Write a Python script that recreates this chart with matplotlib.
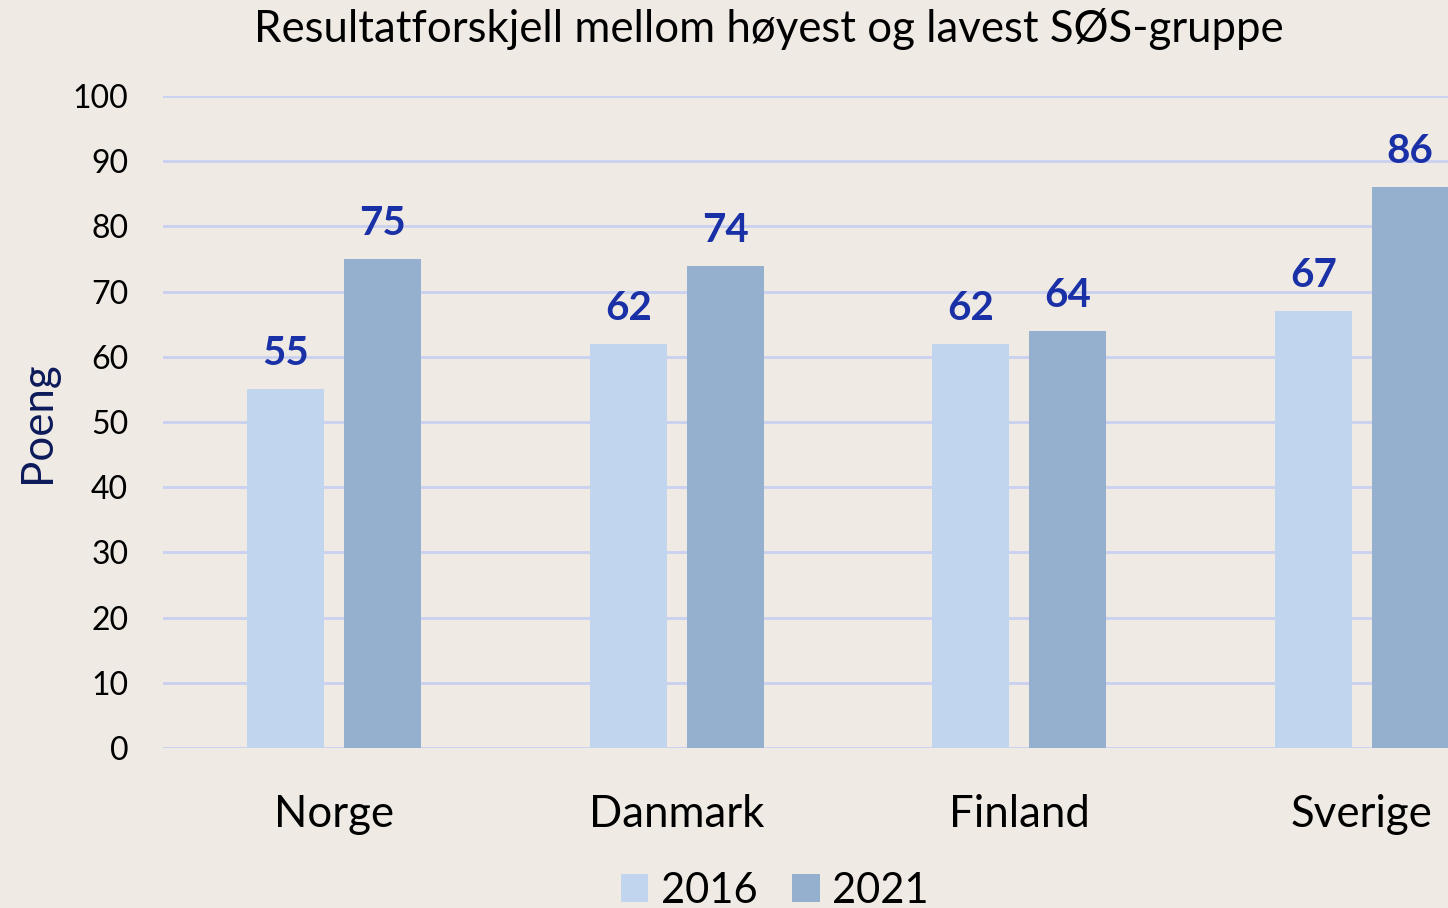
import matplotlib
matplotlib.use("Agg")
import matplotlib.pyplot as plt
import numpy as np
from matplotlib.patches import Patch

categories = ["Norge", "Danmark", "Finland", "Sverige"]
years = ["2016", "2021"]
values_2016 = [55, 62, 62, 67]
values_2021 = [75, 74, 64, 86]
yticks = [0, 10, 20, 30, 40, 50, 60, 70, 80, 90, 100]

bg = "#EFEBE4"
c2016 = "#C1D5EE"
c2021 = "#95AFCF"
lab_col = "#1A30A6"
grid_col = "#C9D1F0"

plt.rcParams['font.family'] = ['Lato', 'DejaVu Sans']

fig = plt.figure(figsize=(14.48, 9.08), dpi=100, facecolor=bg)
ax = fig.add_axes([163/1448, 160/908, 1370/1448, 652/908])
ax.set_facecolor(bg)

x = np.arange(len(categories))
w = 0.225
off = 0.1416
b1 = ax.bar(x - off, values_2016, w, color=c2016, zorder=3)
b2 = ax.bar(x + off, values_2021, w, color=c2021, zorder=3)
for bars, vals in ((b1, values_2016), (b2, values_2021)):
    for r, v in zip(bars, vals):
        ax.text(r.get_x() + r.get_width()/2, v + 2.6, str(v), ha='center', va='bottom',
                color=lab_col, fontsize=29, fontweight='bold', zorder=4)

ax.set_xlim(-0.5, 3.5)
ax.set_ylim(0, 100)
ax.set_yticks(yticks)
ax.set_xticks(x)
ax.set_xticklabels(categories, fontsize=31.5)
ax.tick_params(axis='y', labelsize=23, length=0, pad=25)
ax.tick_params(axis='x', length=0, pad=33)
ax.grid(axis='y', color=grid_col, linewidth=2, zorder=0)
for s in ax.spines.values():
    s.set_visible(False)

fig.text(38/1448, 1-422/908, "Poeng", rotation=90, ha='center', va='center',
         fontsize=31.5, color="#0D1A5A")

fig.text(0.531, 0.968, "Resultatforskjell mellom høyest og lavest SØS-gruppe",
         ha='center', va='center', fontsize=31.5)

handles = [Patch(facecolor=c2016), Patch(facecolor=c2021)]
fig.legend(handles, years, loc='center', bbox_to_anchor=(775/1448, 1-891/908),
           ncol=2, frameon=False, fontsize=30, handlelength=0.65, handleheight=0.65,
           handletextpad=0.31, columnspacing=0.84)

fig.savefig("out.png", dpi=100, facecolor=bg)
